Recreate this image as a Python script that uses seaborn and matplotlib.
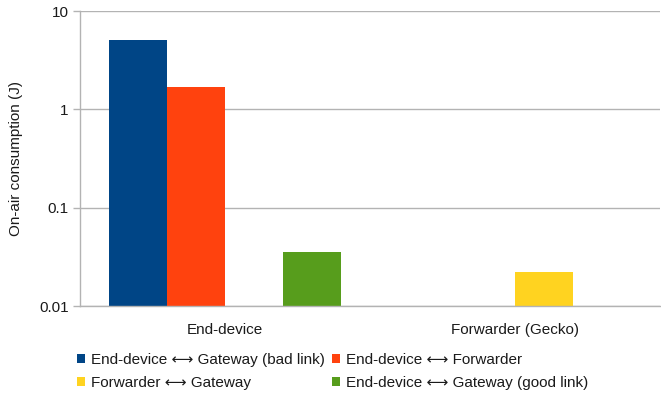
import numpy as np
import pandas as pd
import matplotlib
matplotlib.use("Agg")
import matplotlib.pyplot as plt
import seaborn as sns

categories = ["End-device", "Forwarder (Gecko)"]
series = [
    "End-device \u27f7 Gateway (bad link)",
    "End-device \u27f7 Forwarder",
    "Forwarder \u27f7 Gateway",
    "End-device \u27f7 Gateway (good link)",
]
# energy per series for each category (NaN = not applicable)
bad_link = [5.05, np.nan]
to_forwarder = [1.68, np.nan]
fwd_gateway = [np.nan, 0.0224]
good_link = [0.0357, np.nan]
colors = ["#004586", "#ff420e", "#ffd320", "#579d1c"]

rows = []
for name, vals in zip(series, [bad_link, to_forwarder, fwd_gateway, good_link]):
    for cat, v in zip(categories, vals):
        rows.append({"category": cat, "series": name, "value": v})
df = pd.DataFrame(rows)

sns.set_theme(style="white")
plt.rcParams["font.family"] = ["Liberation Sans", "DejaVu Sans"]

FS = 11
fig = plt.figure(figsize=(6.61, 3.94), dpi=100)
ax = fig.add_axes([0.121, 0.223, 0.877, 0.749])

sns.barplot(data=df, x="category", y="value", hue="series", order=categories,
            hue_order=series, palette=colors, width=0.8, saturation=1,
            ax=ax, legend=True, linewidth=0)
ax.set_yscale("log")
ax.set_ylim(0.01, 10)
ax.set_xlim(-0.5, 1.5)
ax.set_yticks([0.01, 0.1, 1, 10])
ax.set_yticklabels(["0.01", "0.1", "1", "10"])
ax.yaxis.set_minor_locator(matplotlib.ticker.NullLocator())
ax.yaxis.grid(True, color="#b3b3b3", linewidth=1)
ax.set_axisbelow(True)

ax.set_xticks([0, 1])
ax.set_xticklabels(categories)
ax.set_xticks([-0.5, 0.5, 1.5], minor=True)
ax.tick_params(axis="x", which="major", length=0, pad=12, labelsize=FS, labelcolor="#1a1a1a")
ax.tick_params(axis="x", which="minor", length=5, color="#b3b3b3", width=1)
ax.tick_params(axis="y", which="major", length=5, color="#b3b3b3", width=1,
               labelsize=FS, labelcolor="#1a1a1a", left=True, pad=3)

ax.set_xlabel("")
ax.set_ylabel("On-air consumption (J)", fontsize=FS, color="#1a1a1a", labelpad=12)

for s in ["top", "right"]:
    ax.spines[s].set_visible(False)
for s in ["left", "bottom"]:
    ax.spines[s].set_color("#b3b3b3")
    ax.spines[s].set_linewidth(1)

handles, labels = ax.get_legend_handles_labels()
ax.legend_.remove()
order = [0, 2, 1, 3]
fig.legend([handles[i] for i in order], [labels[i] for i in order],
           loc="upper left", bbox_to_anchor=(0.116, 0.104), ncol=2, frameon=False,
           fontsize=FS, handlelength=0.55, handleheight=0.55, handletextpad=0.4,
           columnspacing=0.45, labelspacing=0.6, borderaxespad=0, borderpad=0,
           labelcolor="#1a1a1a")

fig.savefig("out.png", dpi=100)
